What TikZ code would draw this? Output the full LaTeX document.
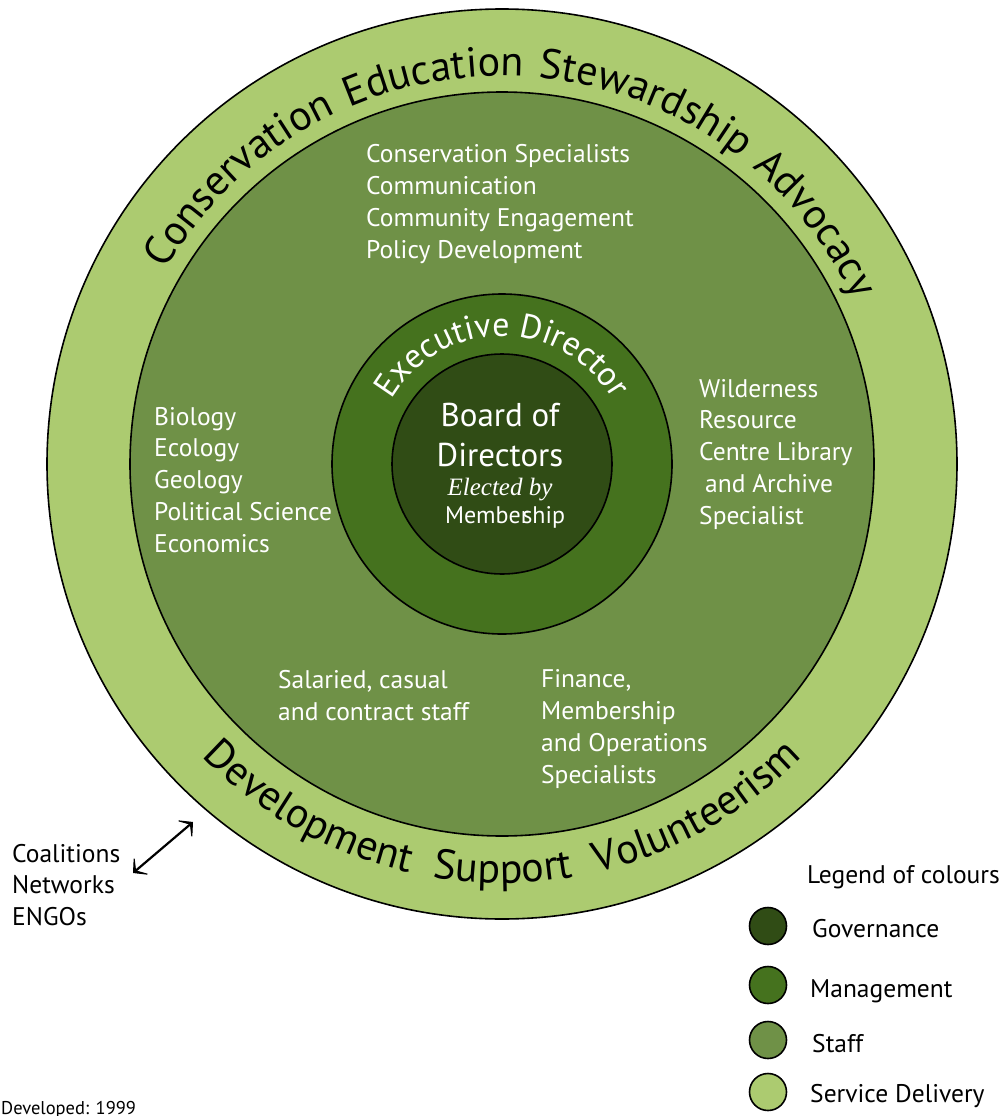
\documentclass[tikz,border=0pt]{standalone}
\usepackage{fontspec}
\setmainfont{PT Sans}
\newfontfamily\electfont{Liberation Serif}
\usepackage{tikz}
\usetikzlibrary{arrows.meta,decorations.text}
\definecolor{service}{HTML}{ACCB70}
\definecolor{staff}{HTML}{6F9147}
\definecolor{manage}{HTML}{45721E}
\definecolor{govern}{HTML}{304C15}
\tikzset{
  ring/.style={draw=black, line width=1.6pt},
  swatch/.style={circle, draw=black, line width=1.6pt, minimum size=37pt, inner sep=0pt},
  wlbl/.style={text=white, font=\fontsize{25.5}{31.7}\selectfont, align=left, anchor=base west, inner sep=0pt},
  klbl/.style={text=black, font=\fontsize{25.5}{31.5}\selectfont, align=left, anchor=base west, inner sep=0pt},
  clbl/.style={text=white, align=center, anchor=base, inner sep=0pt},
  arctext/.style={decorate, decoration={text along path, text align={fit to path stretching spaces}, text color=#1}},
  twoway/.style={draw=black, line width=2.2pt, arrows={Stealth[length=14pt,width=30pt,inset=10pt]-Stealth[length=14pt,width=30pt,inset=10pt]}}
}

\begin{document}
\begin{tikzpicture}[x=1pt, y=1pt]
  \useasboundingbox (0,0) rectangle (1005,-1116);
  \coordinate (O) at (502,-464);

  % the four rings, outside in
  \draw[ring, fill=service] (O) circle[radius=455];
  \draw[ring, fill=staff] (O) circle[radius=372];
  \draw[ring, fill=manage] (O) circle[radius=170];
  \draw[ring, fill=govern] (O) circle[radius=110];

  % words round the outer ring
  \path[arctext=black, decoration={text={|\fontsize{42}{42}\selectfont|Conservation Education Stewardship Advocacy}}]
    ([shift={(150:388)}]O) arc[start angle=150, end angle=25, radius=388];
  \path[arctext=black, decoration={text={|\fontsize{42}{42}\selectfont|Development Support Volunteerism}}]
    ([shift={(224.3:419)}]O) arc[start angle=224.3, end angle=315.7, radius=419];
  \path[decorate, decoration={text along path, text align=center, text color=white,
      text={|\fontsize{34}{34}\selectfont|Executive Director}}]
    ([shift={(165:128)}]O) arc[start angle=165, end angle=15, radius=128];

  % centre
  \node[clbl, font=\fontsize{33}{40}\selectfont] (board) at (500,-466) {Board of\\Directors};
  \node[clbl, font=\electfont\itshape\fontsize{25}{28}\selectfont] (elected) at (500,-495) {Elected by};
  \node[clbl, font=\fontsize{24}{28}\selectfont] (members) at (505,-523) {Membe\rlap{r}\kern1.5pt ship};

  % staff ring (node base sits on the last line)
  \node[wlbl] (outreach) at (366,-258) {Conservation Specialists\\Communication\\Community Engagement\\Policy Development};
  \node[wlbl] (science) at (154,-552) {Biology\\Ecology\\Geology\\Political Science\\Economics};
  \node[wlbl] (library) at (699,-524) {Wilderness\\Resource\\Centre Library\\\hspace{6pt}and Archive\\Specialist};
  \node[wlbl] (staffing) at (278,-720) {Salaried, casual\\and contract staff};
  \node[wlbl] (finance) at (541,-783) {Finance,\\Membership\\and Operations\\Specialists};

  % outside partners
  \node[klbl] (allies) at (12,-925) {Coalitions\\Networks\\ENGOs};
  \coordinate (allyEnd) at (133,-873);
  \coordinate (ringEnd) at (193,-822);
  \draw[twoway] (allyEnd) -- (ringEnd);

  % legend
  \node[klbl] (legend) at (807,-883) {Legend of colours};
  \node[swatch, fill=govern] (swGov) at (768,-926) {};
  \node[swatch, fill=manage] (swMan) at (768,-985) {};
  \node[swatch, fill=staff] (swStaff) at (768,-1040) {};
  \node[swatch, fill=service] (swServ) at (768,-1092) {};
  \node[klbl] (keyGov) at (812,-937) {Governance};
  \node[klbl] (keyMan) at (810,-997) {Management};
  \node[klbl] (keyStaff) at (812,-1052) {Staff};
  \node[klbl] (keyServ) at (810,-1102) {Service Delivery};

  \node[klbl, font=\fontsize{18.5}{18.5}\selectfont] (dated) at (1,-1114) {Developed: 1999};
\end{tikzpicture}
\end{document}
